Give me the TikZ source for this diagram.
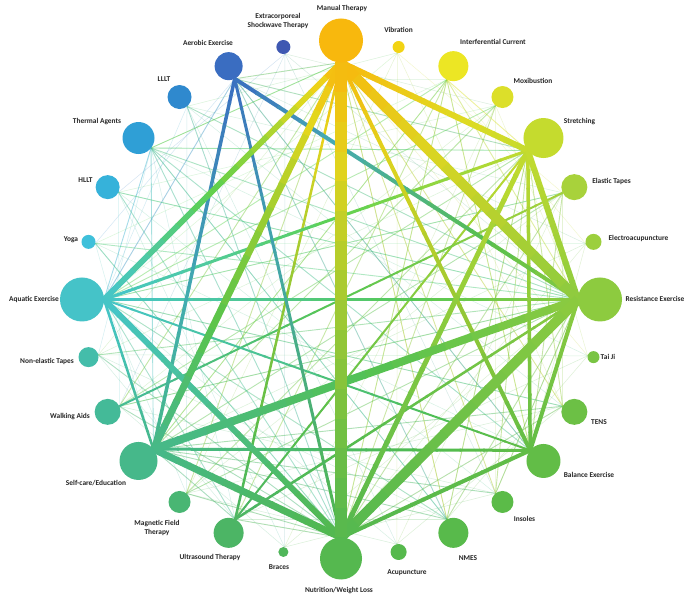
\documentclass[tikz,border=0pt]{standalone}
\usepackage{fontspec}
\setmainfont{Carlito}
\usetikzlibrary{calc}
\definecolor{c0}{HTML}{F8B80D}
\definecolor{c1}{HTML}{F2D313}
\definecolor{c2}{HTML}{ECE624}
\definecolor{c3}{HTML}{DCDF2A}
\definecolor{c4}{HTML}{C5DB2E}
\definecolor{c5}{HTML}{A8D23B}
\definecolor{c6}{HTML}{9CCF3D}
\definecolor{c7}{HTML}{8DCB3F}
\definecolor{c8}{HTML}{79C443}
\definecolor{c9}{HTML}{6CC045}
\definecolor{c10}{HTML}{62BD47}
\definecolor{c11}{HTML}{5BBB48}
\definecolor{c12}{HTML}{58BA4B}
\definecolor{c13}{HTML}{56B94D}
\definecolor{c14}{HTML}{55B84F}
\definecolor{c15}{HTML}{50B65A}
\definecolor{c16}{HTML}{4CB565}
\definecolor{c17}{HTML}{49B673}
\definecolor{c18}{HTML}{46B88A}
\definecolor{c19}{HTML}{44BA98}
\definecolor{c20}{HTML}{44BDAA}
\definecolor{c21}{HTML}{45C3C8}
\definecolor{c22}{HTML}{3FC0DA}
\definecolor{c23}{HTML}{36B2DA}
\definecolor{c24}{HTML}{2F9FD6}
\definecolor{c25}{HTML}{2F89CE}
\definecolor{c26}{HTML}{3A6DC1}
\definecolor{c27}{HTML}{3F58B2}
\def\HueL{{43.7,51.7,58.2,61,67.6,76.7,81,86.6,94.9,101,106,110,113,115,116.6,125.9,134,143,155.8,162.7,170.6,182.3,190,194.6,199.8,206,217,227}}
\def\SatL{{0.948,0.921,0.847,0.812,0.79,0.719,0.705,0.69,0.658,0.64,0.624,0.615,0.597,0.584,0.571,0.56,0.58,0.6,0.62,0.634,0.64,0.655,0.711,0.752,0.78,0.772,0.7,0.646}}
\def\ValL{{0.973,0.949,0.925,0.875,0.859,0.824,0.812,0.796,0.769,0.753,0.741,0.733,0.729,0.725,0.722,0.714,0.71,0.714,0.722,0.729,0.741,0.784,0.855,0.855,0.839,0.808,0.757,0.698}}
\pgfdeclarelayer{bg}
\pgfsetlayers{bg,main}
% colour at fraction #3 between ring nodes #1 and #2, stored as 'segc'
\newcommand\hsbmix[3]{%
  \pgfmathsetmacro\hA{\HueL[#1]}\pgfmathsetmacro\hB{\HueL[#2]}%
  \pgfmathsetmacro\sA{\SatL[#1]}\pgfmathsetmacro\sB{\SatL[#2]}%
  \pgfmathsetmacro\vA{\ValL[#1]}\pgfmathsetmacro\vB{\ValL[#2]}%
  \pgfmathsetmacro\hH{\hA+(\hB-\hA)*#3}%
  \pgfmathsetmacro\sH{\sA+(\sB-\sA)*#3}%
  \pgfmathsetmacro\vH{\vA+(\vB-\vA)*#3}%
  \definecolor{hsbc}{Hsb}{\hH,\sH,\vH}%
  \colorlet{hsbr}[rgb]{hsbc}%
  \pgfmathtruncatemacro\pq{100-100*#3}%
  \colorlet{rgbc}{c#1!\pq!c#2}%
  \colorlet{segc}{hsbr!55!rgbc}%
}
\newcommand\gedge[3]{%
  \foreach \s in {0,...,15}{%
    \pgfmathsetmacro\ta{\s/16}%
    \pgfmathsetmacro\tb{min(1,(\s+1)/16+0.005)}%
    \pgfmathsetmacro\tm{(\s+0.5)/16}%
    \hsbmix{#1}{#2}{\tm}%
    \draw[line width=#3pt, segc] ($(a#1)!\ta!(a#2)$) -- ($(a#1)!\tb!(a#2)$);
  }%
}
\tikzset{
  dot/.style={circle, inner sep=0pt, draw=none},
  lab/.style={font=\bfseries\fontsize{7.4}{8.4}\selectfont, text=black!85, inner sep=0pt, align=center},
  thinedge/.style={line width=0.9pt, opacity=0.45},
  faintedge/.style={line width=0.5pt, opacity=0.22}
}
\begin{document}
\begin{tikzpicture}[x=1pt,y=1pt]
\useasboundingbox (0,0) rectangle (691,600);
\coordinate (C) at (341,300.5);
% nodes
\foreach \k/\r in {0/22,1/6,2/15,3/11,4/20,5/13,6/8,7/22,8/6,9/13,10/17,11/11,12/15,13/8,14/21,15/5,16/15,17/11,18/19,19/13,20/10,21/22,22/7,23/12,24/16,25/12,26/14,27/7}{
  \pgfmathsetmacro\ang{90-\k*360/28}
  \node[dot, fill=c\k, minimum size=2*\r] (n\k) at ($(C)+(\ang:259)$) {};
  \coordinate (a\k) at ($(n\k.center)!\r pt!(C)$);
}
\begin{pgfonlayer}{bg}
\fill[white] (0,0) rectangle (691,600);
% faint mesh
\foreach \i in {0,...,27}{
  \foreach \j in {0,...,27}{
    \pgfmathtruncatemacro\ok{and(\j>\i+1, mod(\i*5+\j*3,4)==0)}
    \ifnum\ok=1
      \hsbmix{\i}{\j}{0.5}
      \draw[faintedge, segc] (a\i) -- (a\j);
    \fi
  }
}
% thin edges
\foreach \i/\j in {24/7,24/14,24/18,24/0,24/10,24/12,24/4,24/21,
  2/14,2/18,2/21,2/16,2/10,2/7,2/4,
  5/14,5/18,5/21,5/10,
  9/14,9/18,9/21,9/0,9/4,
  12/4,12/7,12/0,12/18,12/21,
  11/7,11/4,11/18,11/0,
  16/18,16/14,16/21,17/7,17/0,17/4,17/14,
  19/7,19/4,19/0,19/14,
  23/7,23/14,25/14,25/7,
  26/0,26/4,26/10,26/21,26/12,
  20/7,20/14,22/14,22/7,
  3/14,3/18,3/21}{
  \hsbmix{\i}{\j}{0.5}
  \draw[thinedge, segc] (a\i) -- (a\j);
}
% main edges
\foreach \i/\j/\w in {16/4/2,19/5/2,21/10/2,
  0/16/2.5,7/16/2.5,21/7/2.5,21/18/2.5,
  4/21/3,18/10/3,26/14/3,
  26/18/3.5,4/10/3.5,
  26/7/4,0/10/4,7/10/4,10/14/4,
  4/14/5,
  0/4/6,0/21/6,4/7/6,21/14/6,
  0/18/7,18/14/7,
  7/18/8,
  0/7/10,7/14/10,
  0/14/12}{
  \gedge{\i}{\j}{\w}
}
\end{pgfonlayer}
% labels
\node[lab] (l0) at (342,592) {Manual Therapy};
\node[lab] (l1) at (398.5,570) {Vibration};
\node[lab] (l2) at (493,558) {Interferential Current};
\node[lab] (l3) at (533,519) {Moxibustion};
\node[lab] (l4) at (579.5,478) {Stretching};
\node[lab] (l5) at (611.5,419) {Elastic Tapes};
\node[lab] (l6) at (638.5,362) {Electroacupuncture};
\node[lab] (l7) at (655,301) {Resistance Exercise};
\node[lab] (l8) at (608,243) {Tai Ji};
\node[lab] (l9) at (599,178) {TENS};
\node[lab] (l10) at (589,125) {Balance Exercise};
\node[lab] (l11) at (524.5,81) {Insoles};
\node[lab] (l12) at (468,42) {NMES};
\node[lab] (l13) at (407,27) {Acupuncture};
\node[lab] (l14) at (339,9) {Nutrition/Weight Loss};
\node[lab] (l15) at (279,33) {Braces};
\node[lab] (l16) at (210,43) {Ultrasound Therapy};
\node[lab] (l17) at (157,72) {Magnetic Field\\Therapy};
\node[lab] (l18) at (96,117) {Self-care/Education};
\node[lab] (l19) at (70,183) {Walking Aids};
\node[lab] (l20) at (47,239) {Non-elastic Tapes};
\node[lab] (l21) at (34,301) {Aquatic Exercise};
\node[lab] (l22) at (71,360) {Yoga};
\node[lab] (l23) at (85.5,420) {HLLT};
\node[lab] (l24) at (97,478) {Thermal Agents};
\node[lab] (l25) at (164,521) {LLLT};
\node[lab] (l26) at (208,557) {Aerobic Exercise};
\node[lab] (l27) at (278,579) {Extracorporeal\\Shockwave Therapy};
\end{tikzpicture}
\end{document}
